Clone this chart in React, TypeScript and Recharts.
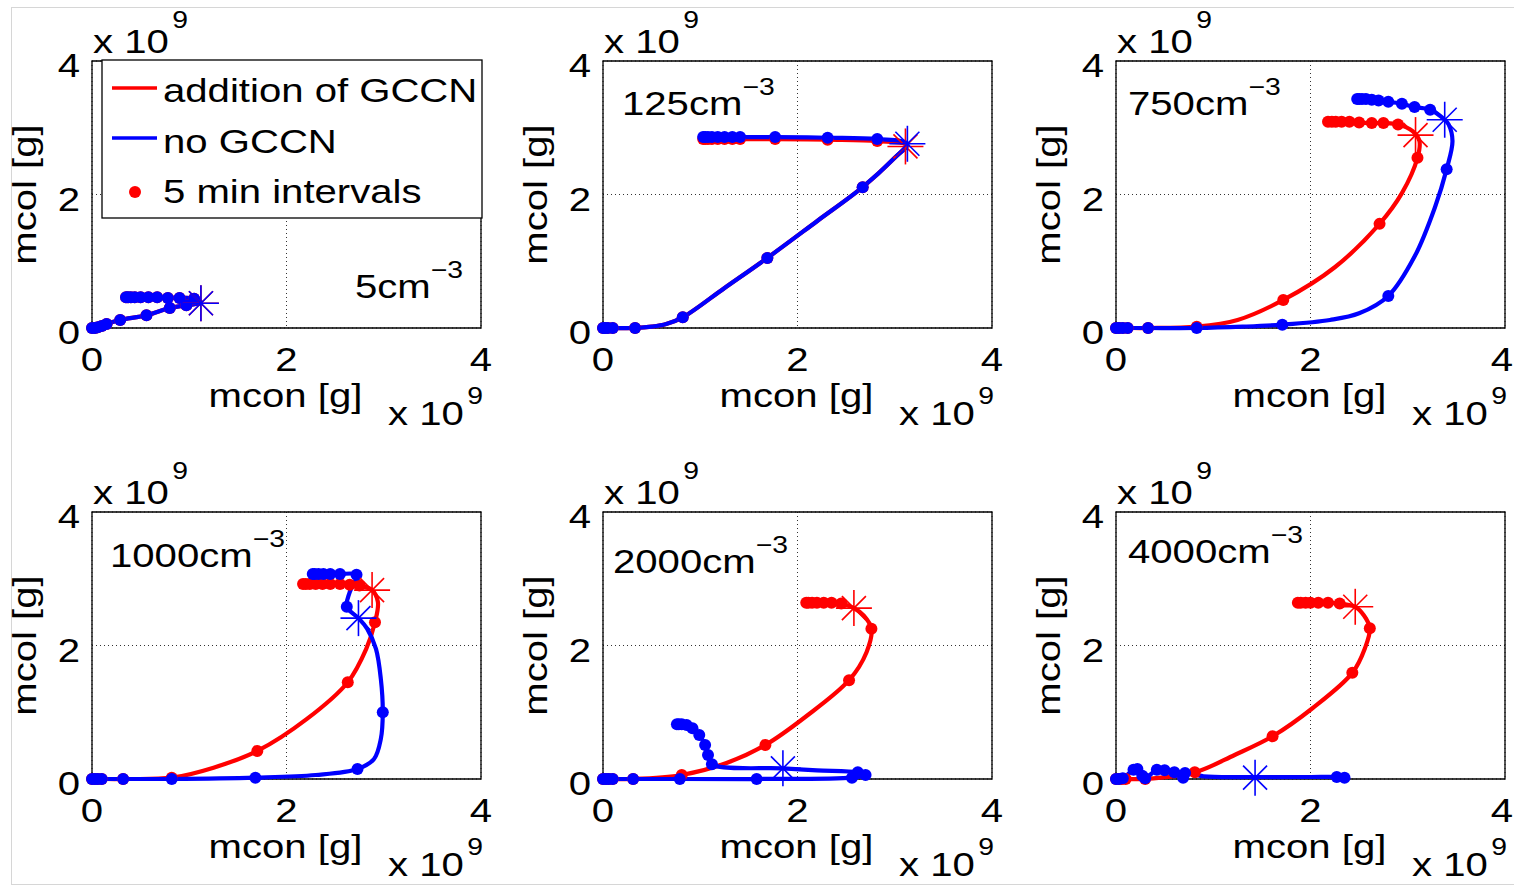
import React from 'react';
import { ComposedChart, Line, Scatter, XAxis, YAxis, CartesianGrid, ReferenceArea } from 'recharts';

// ---------- data (values in units of 1e9 g) : [mcon, mcol, isFiveMinuteDot] ----------
const concentrations = ['5', '125', '750', '1000', '2000', '4000'];
const axisTicks = [0, 2, 4];
const legendLabels = ['addition of GCCN', 'no GCCN', '5 min intervals'];

const p1Blue = [[0,0,1],[0.03,0,1],[0.06,0.01,1],[0.1,0.03,1],[0.15,0.06,1],[0.29,0.12,1],[0.56,0.19,1],[0.8,0.3,1],[0.97,0.34,1],[1.12,0.38,0],[1.05,0.44,1],[0.9,0.45,1],[0.78,0.45,1],[0.67,0.46,1],[0.58,0.46,1],[0.5,0.46,1],[0.44,0.46,1],[0.4,0.46,1],[0.37,0.46,1],[0.35,0.46,1]];
const p1Red = [[0,0,1],[0.03,0,1],[0.06,0.01,1],[0.1,0.03,1],[0.15,0.06,1],[0.29,0.12,1],[0.56,0.19,1],[0.8,0.3,1],[0.97,0.34,1],[1.12,0.38,0],[1.05,0.44,1],[0.9,0.45,1],[0.78,0.45,1],[0.67,0.46,1],[0.58,0.46,1],[0.5,0.46,1],[0.44,0.46,1],[0.4,0.46,1],[0.37,0.46,1],[0.35,0.46,1]];
const p1RedStar = [[1.12, 0.37]];
const p1BlueStar = [[1.12, 0.37]];

const p2Blue = [[0,0,1],[0.02,0,1],[0.05,0,1],[0.1,0,1],[0.33,0,1],[0.5,0.02,0],[0.65,0.06,0],[0.82,0.16,1],[1.25,0.6,0],[1.69,1.05,1],[2.2,1.6,0],[2.67,2.11,1],[3.0,2.55,0],[3.13,2.76,0],[2.82,2.83,1],[2.31,2.85,1],[1.77,2.86,1],[1.41,2.86,1],[1.33,2.86,1],[1.25,2.86,1],[1.18,2.86,1],[1.12,2.86,1],[1.08,2.86,1],[1.05,2.86,1],[1.03,2.86,1]];
const p2Red = [[0,0,1],[0.02,0,1],[0.05,0,1],[0.1,0,1],[0.33,0,1],[0.5,0.02,0],[0.65,0.06,0],[0.82,0.16,1],[1.25,0.6,0],[1.69,1.05,1],[2.2,1.6,0],[2.67,2.11,1],[3.0,2.55,0],[3.12,2.74,0],[2.82,2.8,1],[2.31,2.82,1],[1.77,2.83,1],[1.41,2.83,1],[1.33,2.83,1],[1.25,2.83,1],[1.18,2.83,1],[1.12,2.83,1],[1.08,2.83,1],[1.05,2.83,1],[1.03,2.83,1]];
const p2RedStar = [[3.11, 2.72]];
const p2BlueStar = [[3.13, 2.76]];

const p3Blue = [[0,0,1],[0.03,0,1],[0.07,0,1],[0.12,0,1],[0.33,0,1],[0.83,0,1],[1.3,0.02,0],[1.71,0.05,1],[2.2,0.12,0],[2.5,0.22,0],[2.8,0.48,1],[3.07,1.07,0],[3.28,1.81,0],[3.4,2.38,1],[3.46,2.8,0],[3.42,3.05,0],[3.38,3.12,0],[3.23,3.27,1],[3.07,3.31,1],[2.94,3.36,1],[2.8,3.39,1],[2.7,3.41,1],[2.63,3.42,1],[2.57,3.43,1],[2.53,3.43,1],[2.5,3.43,1],[2.48,3.43,1]];
const p3Red = [[0,0,1],[0.03,0,1],[0.07,0,1],[0.12,0,1],[0.33,0,1],[0.83,0.02,1],[1.25,0.12,0],[1.72,0.42,1],[2.25,0.91,0],[2.71,1.56,1],[2.94,2.02,0],[3.1,2.55,1],[3.12,2.8,0],[3.05,2.95,0],[2.9,3.05,1],[2.75,3.07,1],[2.63,3.07,1],[2.5,3.08,1],[2.4,3.09,1],[2.32,3.09,1],[2.26,3.09,1],[2.22,3.09,1],[2.18,3.09,1]];
const p3RedStar = [[3.08, 2.89]];
const p3BlueStar = [[3.38, 3.12]];

const p4Blue = [[0,0,1],[0.03,0,1],[0.06,0,1],[0.1,0,1],[0.32,0,1],[0.82,0,1],[1.68,0.02,1],[2.3,0.06,0],[2.73,0.15,1],[2.9,0.3,0],[2.97,0.6,0],[2.99,1.0,1],[2.97,1.5,0],[2.92,1.95,0],[2.83,2.25,0],[2.74,2.41,0],[2.62,2.58,1],[2.65,2.8,0],[2.72,3.06,1],[2.55,3.07,1],[2.45,3.07,1],[2.38,3.07,1],[2.33,3.07,1],[2.29,3.07,1],[2.27,3.07,1]];
const p4Red = [[0,0,1],[0.03,0,1],[0.06,0,1],[0.1,0,1],[0.32,0,1],[0.82,0.02,1],[1.25,0.17,0],[1.7,0.42,1],[2.21,0.9,0],[2.63,1.45,1],[2.82,1.95,0],[2.91,2.35,1],[2.94,2.65,0],[2.88,2.83,0],[2.75,2.9,1],[2.65,2.91,1],[2.55,2.92,1],[2.45,2.92,1],[2.37,2.92,1],[2.3,2.92,1],[2.24,2.92,1],[2.2,2.92,1],[2.17,2.92,1]];
const p4RedStar = [[2.88, 2.83]];
const p4BlueStar = [[2.74, 2.41]];

const p5Red = [[0,0,1],[0.03,0,1],[0.06,0,1],[0.1,0,1],[0.31,0,1],[0.81,0.06,1],[1.27,0.24,0],[1.67,0.51,1],[2.09,0.94,0],[2.53,1.48,1],[2.71,1.9,0],[2.76,2.25,1],[2.68,2.45,0],[2.58,2.56,0],[2.45,2.63,1],[2.35,2.64,1],[2.27,2.64,1],[2.2,2.64,1],[2.15,2.64,1],[2.11,2.64,1],[2.09,2.64,1]];
const p5Blue = [[0,0,1],[0.03,0,1],[0.06,0,1],[0.1,0,1],[0.31,0,1],[0.79,0,1],[1.58,0,1],[2.56,0.02,1],[2.7,0.06,1],[2.62,0.1,1],[2.2,0.13,0],[1.85,0.16,0],[1.12,0.22,1],[1.08,0.36,1],[1.05,0.51,1],[0.99,0.66,1],[0.92,0.76,1],[0.86,0.81,1],[0.81,0.82,1],[0.78,0.82,1],[0.76,0.82,1]];
const p5RedStar = [[2.58, 2.56]];
const p5BlueStar = [[1.85, 0.16]];

const p6Red = [[0,0,1],[0.03,0,1],[0.06,0,1],[0.1,0,1],[0.3,0,1],[0.81,0.1,1],[1.22,0.36,0],[1.61,0.64,1],[2.02,1.06,0],[2.43,1.59,1],[2.56,1.96,0],[2.61,2.26,1],[2.55,2.45,0],[2.46,2.58,0],[2.3,2.63,1],[2.18,2.64,1],[2.08,2.64,1],[2.0,2.64,1],[1.95,2.64,1],[1.9,2.64,1],[1.87,2.64,1]];
const p6Blue = [[0,0,1],[0.03,0,1],[0.07,0.01,1],[0.18,0.14,1],[0.22,0.15,1],[0.27,0.05,1],[0.3,0.01,1],[0.42,0.14,1],[0.5,0.13,1],[0.6,0.1,1],[0.69,0.02,1],[0.71,0.09,1],[0.9,0.04,0],[1.43,0.03,0],[2.0,0.03,0],[2.27,0.03,1],[2.35,0.02,1],[2.38,0.02,0]];
const p6RedStar = [[2.46, 2.58]];
const p6BlueStar = [[1.43, 0.02]];

// ---------- styling / layout ----------
const FONT = "'Liberation Sans', Arial, Helvetica, sans-serif";
const SX = 1.18;
const FS = 34;
const SUP = 24;
const RED = '#ff0000';
const BLUE = '#0000ff';
const LW = 4.2;
const DOT_R = 6;
const CW = 510;
const CH = 440;
const PL = 92;
const PT = 61;
const PW = 389;
const PH = 267;
const YW = 60;
const XH = 60;
const PAGE_W = 1514;
const colLeft = [0, 511, 1024];
const rowTop = [0, 451];
const annotPos = [[355, 298], [111, 115], [104, 115], [110, 116], [102, 122], [104, 112]];

const toPts = (arr) => arr.map(([x, y, d]) => ({ x, y, d }));
const toStar = (arr) => arr.map(([x, y]) => ({ x, y }));

const panels = [
  { red: p1Red, blue: p1Blue, rs: p1RedStar, bs: p1BlueStar },
  { red: p2Red, blue: p2Blue, rs: p2RedStar, bs: p2BlueStar },
  { red: p3Red, blue: p3Blue, rs: p3RedStar, bs: p3BlueStar },
  { red: p4Red, blue: p4Blue, rs: p4RedStar, bs: p4BlueStar },
  { red: p5Red, blue: p5Blue, rs: p5RedStar, bs: p5BlueStar },
  { red: p6Red, blue: p6Blue, rs: p6RedStar, bs: p6BlueStar },
];

// centripetal Catmull-Rom curve factory (smooth path through every point, no overshoot on clustered points)
function catmullRomCurve(context) {
  let pts = [];
  const dist = (a, b) => Math.hypot(a[0] - b[0], a[1] - b[1]);
  return {
    areaStart() {},
    areaEnd() {},
    lineStart() {
      pts = [];
    },
    point(x, y) {
      pts.push([+x, +y]);
    },
    lineEnd() {
      if (!pts.length) return;
      context.moveTo(pts[0][0], pts[0][1]);
      if (pts.length === 1) return;
      for (let i = 0; i < pts.length - 1; i++) {
        const p0 = pts[i - 1] || pts[i];
        const p1 = pts[i];
        const p2 = pts[i + 1];
        const p3 = pts[i + 2] || pts[i + 1];
        const l01a = Math.sqrt(dist(p0, p1));
        const l12a = Math.sqrt(dist(p1, p2));
        const l23a = Math.sqrt(dist(p2, p3));
        const l01_2a = l01a * l01a;
        const l12_2a = l12a * l12a;
        const l23_2a = l23a * l23a;
        let c1x = p1[0], c1y = p1[1], c2x = p2[0], c2y = p2[1];
        if (l01a > 1e-6 && l12a > 1e-6) {
          const a = 2 * l01_2a + 3 * l01a * l12a + l12_2a;
          const n = 3 * l01a * (l01a + l12a);
          c1x = (p1[0] * a - p0[0] * l12_2a + p2[0] * l01_2a) / n;
          c1y = (p1[1] * a - p0[1] * l12_2a + p2[1] * l01_2a) / n;
        }
        if (l23a > 1e-6 && l12a > 1e-6) {
          const b = 2 * l23_2a + 3 * l23a * l12a + l12_2a;
          const m = 3 * l23a * (l23a + l12a);
          c2x = (p2[0] * b + p1[0] * l23_2a - p3[0] * l12_2a) / m;
          c2y = (p2[1] * b + p1[1] * l23_2a - p3[1] * l12_2a) / m;
        }
        context.bezierCurveTo(c1x, c1y, c2x, c2y, p2[0], p2[1]);
      }
    },
  };
}

const makeXTick = (pageLeft) => (props) => {
  const { x, y, payload } = props;
  const half = 0.556 * FS * SX * 0.5;
  const maxX = PAGE_W - 1 - half - pageLeft;
  const tx = Math.min(x, maxX);
  return (
    <text transform={`translate(${tx},${y + 43}) scale(${SX},1)`} textAnchor="middle" fontSize={FS} fontFamily={FONT} fill="#000">
      {payload.value}
    </text>
  );
};
const YTick = (props) => {
  const { x, y, payload } = props;
  return (
    <text transform={`translate(${x - 12},${y + 16}) scale(${SX},1)`} textAnchor="end" fontSize={FS} fontFamily={FONT} fill="#000">
      {payload.value}
    </text>
  );
};

const makeDot = (color) => (props) => {
  const { cx, cy, payload, index } = props;
  if (!payload || !payload.d || cx == null || cy == null) return <g key={`e-${index}`} />;
  return <circle key={`d-${index}`} cx={cx} cy={cy} r={DOT_R} fill={color} stroke="none" />;
};

const makeStar = (color) => (props) => {
  const { cx, cy } = props;
  if (cx == null || cy == null) return <g />;
  const r = 18;
  const d = 12;
  return (
    <g stroke={color} strokeWidth={1.6} fill="none">
      <line x1={cx - r} y1={cy} x2={cx + r} y2={cy} />
      <line x1={cx} y1={cy - r} x2={cx} y2={cy + r} />
      <line x1={cx - d} y1={cy - d} x2={cx + d} y2={cy + d} />
      <line x1={cx - d} y1={cy + d} x2={cx + d} y2={cy - d} />
    </g>
  );
};

const T = ({ x, y, anchor = 'start', rot = 0, size = FS, children }) => (
  <text
    transform={`translate(${x},${y})${rot ? ` rotate(${rot})` : ''} scale(${SX},1)`}
    textAnchor={anchor}
    fontSize={size}
    fontFamily={FONT}
    fill="#000"
  >
    {children}
  </text>
);

const Legend1 = () => (
  <g>
    <rect x={102} y={60} width={380} height={158} fill="#fff" stroke="#000" strokeWidth={1.3} />
    <line x1={112} y1={88} x2={157} y2={88} stroke={RED} strokeWidth={3.5} />
    <T x={163} y={102}>{legendLabels[0]}</T>
    <line x1={112} y1={138} x2={157} y2={138} stroke={BLUE} strokeWidth={3.5} />
    <T x={163} y={153}>{legendLabels[1]}</T>
    <circle cx={135} cy={192} r={6} fill={RED} />
    <T x={163} y={203}>{legendLabels[2]}</T>
  </g>
);

const Panel = ({ idx }) => {
  const p = panels[idx];
  const col = idx % 3;
  const row = Math.floor(idx / 3);
  const [ax, ay] = annotPos[idx];
  const XTick = makeXTick(colLeft[col]);
  return (
    <div style={{ position: 'absolute', left: colLeft[col], top: rowTop[row], width: CW, height: CH }}>
      <ComposedChart
        width={CW}
        height={CH}
        margin={{ top: PT, left: PL - YW, right: CW - PL - PW, bottom: CH - PT - PH - XH }}
      >
        <CartesianGrid stroke="#333" strokeDasharray="1 3" strokeWidth={1} />
        <XAxis
          type="number"
          dataKey="x"
          domain={[0, 4]}
          ticks={axisTicks}
          interval={0}
          height={XH}
          axisLine={false}
          tickLine={false}
          tickSize={0}
          tickMargin={0}
          tick={<XTick />}
        />
        <YAxis
          type="number"
          dataKey="y"
          domain={[0, 4]}
          ticks={axisTicks}
          interval={0}
          width={YW}
          axisLine={false}
          tickLine={false}
          tickSize={0}
          tickMargin={0}
          tick={<YTick />}
        />
        <ReferenceArea x1={0} x2={4} y1={0} y2={4} fill="none" fillOpacity={0} stroke="#000" strokeWidth={1.3} />
        <Line
          data={toPts(p.red)}
          dataKey="y"
          type={catmullRomCurve}
          stroke={RED}
          strokeWidth={LW}
          strokeLinejoin="round"
          strokeLinecap="round"
          dot={makeDot(RED)}
          activeDot={false}
          isAnimationActive={false}
        />
        <Line
          data={toPts(p.blue)}
          dataKey="y"
          type={catmullRomCurve}
          stroke={BLUE}
          strokeWidth={LW}
          strokeLinejoin="round"
          strokeLinecap="round"
          dot={makeDot(BLUE)}
          activeDot={false}
          isAnimationActive={false}
        />
        <Scatter data={toStar(p.rs)} dataKey="y" shape={makeStar(RED)} isAnimationActive={false} />
        <Scatter data={toStar(p.bs)} dataKey="y" shape={makeStar(BLUE)} isAnimationActive={false} />
      </ComposedChart>
      <svg width={CW} height={CH} style={{ position: 'absolute', left: 0, top: 0, pointerEvents: 'none', overflow: 'visible' }}>
        <T x={36} y={PT + PH / 2} anchor="middle" rot={-90}>mcol [g]</T>
        <T x={PL + PW / 2 - 1} y={PT + PH + 79} anchor="middle">mcon [g]</T>
        <T x={PL + PW - 93} y={PT + PH + 97}>
          x 10<tspan dx={3} dy={-21} fontSize={SUP}>9</tspan>
        </T>
        <T x={PL + 1} y={PT - 8}>
          x 10<tspan dx={3} dy={-25} fontSize={SUP}>9</tspan>
        </T>
        <T x={ax} y={ay}>
          {concentrations[idx]}cm<tspan dy={-20} fontSize={SUP}>−3</tspan>
        </T>
        {idx === 0 && <Legend1 />}
      </svg>
    </div>
  );
};

export default function App() {
  return (
    <div style={{ position: 'absolute', left: 0, top: 0, width: PAGE_W, height: 885, overflow: 'hidden', background: '#fff' }}>
      <div style={{ position: 'absolute', left: 11, top: 7, width: 1520, height: 876, border: '1px solid #d6d6d6' }} />
      {[0, 1, 2, 3, 4, 5].map((i) => (
        <Panel key={i} idx={i} />
      ))}
    </div>
  );
}
